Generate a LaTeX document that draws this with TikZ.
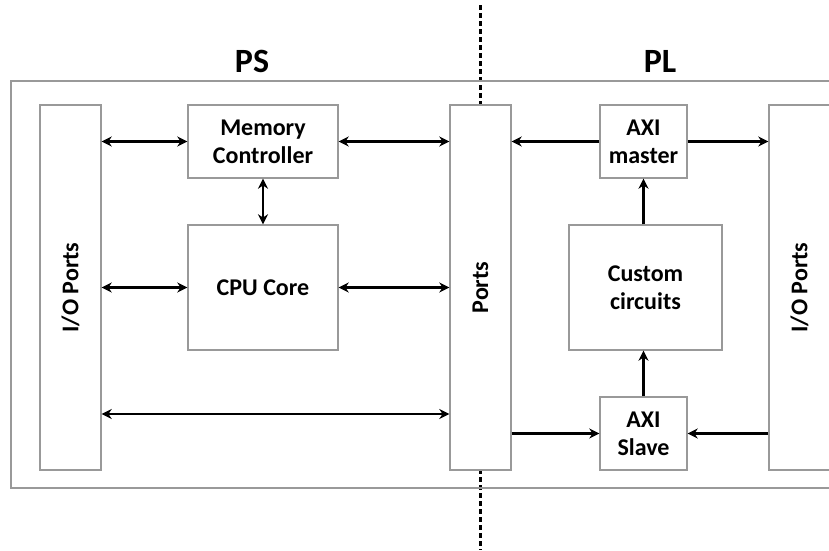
\documentclass[tikz,border=0pt]{standalone}
\usepackage{fontspec}
\setmainfont{Carlito}
\usetikzlibrary{arrows.meta}
\begin{document}
\begin{tikzpicture}[x=1pt,y=-1pt,
  box/.style={draw=black!40,line width=1.4pt,fill=white},
  lbl/.style={font=\bfseries\fontsize{24}{28}\selectfont,align=center},
  conn/.style={line width=2.6pt,-{Stealth[length=10pt,width=10pt]}},
  biconn/.style={line width=2.6pt,{Stealth[length=10pt,width=10pt]}-{Stealth[length=10pt,width=10pt]}},
  title/.style={font=\bfseries\fontsize{34}{40}\selectfont}]
\useasboundingbox (0,0) rectangle (829,550);
\begin{scope}
\clip (0,0) rectangle (829,550);
% dashed divider
\coordinate (dtop) at (480,5);
\coordinate (dbot) at (480,550);
\draw[line width=3pt,dash pattern=on 5pt off 3pt] (dtop) -- (dbot);
% outer frame
\draw[box,fill=none] (11,81) rectangle (860,488);
% boxes
\node[box,minimum width=61pt,minimum height=365pt,inner sep=0pt] (lio) at (70.5,287.5) {};
\node[lbl,rotate=90] at (lio) {I/O Ports};
\node[box,minimum width=61pt,minimum height=365pt,inner sep=0pt] (ports) at (480.5,287.5) {};
\node[lbl,rotate=90] at (ports) {Ports};
\node[box,minimum width=61pt,minimum height=365pt,inner sep=0pt] (rio) at (799.5,287.5) {};
\node[lbl,rotate=90] at (rio) {I/O Ports};
\node[box,lbl,minimum width=150pt,minimum height=73pt,inner sep=0pt] (mem) at (263,141.5) {Memory\\Controller};
\node[box,lbl,minimum width=150pt,minimum height=125pt,inner sep=0pt] (cpu) at (263,287.5) {CPU Core};
\node[box,lbl,minimum width=87pt,minimum height=73pt,inner sep=0pt] (axim) at (643.5,141.5) {AXI\\master};
\node[box,lbl,minimum width=153pt,minimum height=125pt,inner sep=0pt] (cust) at (645.5,287.5) {Custom\\circuits};
\node[box,lbl,minimum width=87pt,minimum height=73pt,inner sep=0pt] (axis) at (643.5,433.5) {AXI\\Slave};
% connectors
\draw[biconn] (lio.east |- mem.west) -- (mem.west);
\draw[biconn] (mem.east) -- (ports.west |- mem.east);
\draw[biconn] (mem.south) -- (cpu.north);
\draw[biconn] (lio.east |- cpu.west) -- (cpu.west);
\draw[biconn] (cpu.east) -- (ports.west |- cpu.east);
\draw[biconn] (lio.east |- 0,414) -- (ports.west |- 0,414);
\draw[conn] (axim.west) -- (ports.east |- axim.west);
\draw[conn] (axim.east) -- (rio.west |- axim.east);
\draw[conn] (cust.north -| axim.south) -- (axim.south);
\draw[conn] (axis.north) -- (cust.south -| axis.north);
\draw[conn] (ports.east |- axis.west) -- (axis.west);
\draw[conn] (rio.west |- axis.east) -- (axis.east);
\end{scope}
% titles
\node[title] (ps) at (252,61) {PS};
\node[title] (pl) at (660,61) {PL};
\end{tikzpicture}
\end{document}
